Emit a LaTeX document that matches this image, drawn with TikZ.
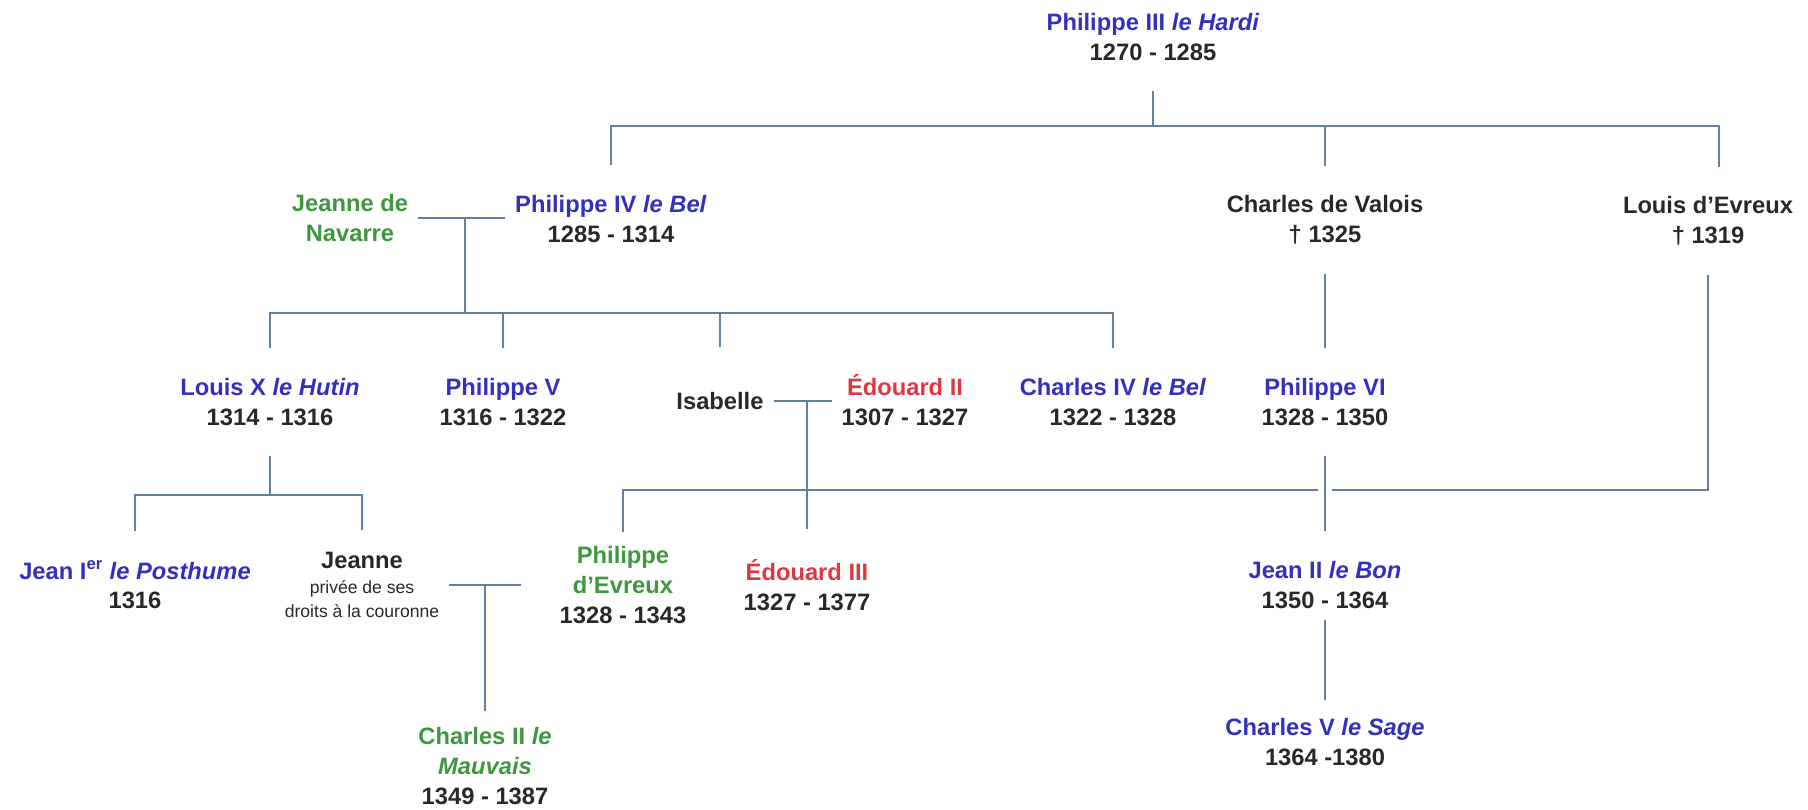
\documentclass[tikz,border=0pt]{standalone}
\usepackage{fontspec}
\setmainfont{Liberation Sans}
\definecolor{kingblue}{RGB}{52,48,190}
\definecolor{navgreen}{RGB}{62,150,62}
\definecolor{engred}{RGB}{222,55,65}
\definecolor{linegray}{RGB}{100,128,160}
\definecolor{datedark}{RGB}{40,40,40}
\newcommand{\franc}[1]{\textcolor{kingblue}{#1}}
\newcommand{\navar}[1]{\textcolor{navgreen}{#1}}
\newcommand{\angl}[1]{\textcolor{engred}{#1}}
\newcommand{\petit}[1]{{\fontsize{10}{12}\selectfont\mdseries #1}}
\begin{document}
\begin{tikzpicture}[x=0.02cm,y=-0.02cm,
	person/.style={align=center,font=\fontsize{13.5}{17}\selectfont\bfseries,text=datedark,
		inner sep=0pt,outer xsep=0.2cm,outer ysep=0.6cm},
	link/.style={draw=linegray,line width=1.6pt},
	hop/.style={preaction={draw=white,line width=8pt}}]
	\useasboundingbox (0,0) rectangle (1808,809);
	% first and second generation
	\node[person] (hardi) at (1153,37) {\franc{Philippe III \textit{le Hardi}}\\1270 - 1285};
	\node[person,text=navgreen] (navarre) at (350,218) {Jeanne de\\Navarre};
	\node[person] (bel4) at (611,219) {\franc{Philippe IV \textit{le Bel}}\\1285 - 1314};
	\node[person] (valois) at (1325,220) {Charles de Valois\\† 1325};
	\node[person] (evreuxL) at (1708,221) {Louis d'Evreux\\† 1319};
	% third generation
	\node[person] (hutin) at (270,402) {\franc{Louis X \textit{le Hutin}}\\1314 - 1316};
	\node[person] (phil5) at (503,402) {\franc{Philippe V}\\1316 - 1322};
	\node[person,outer ysep=0.9cm] (isabelle) at (720,401) {Isabelle};
	\node[person] (edouard2) at (905,400) {\angl{Édouard II}\\1307 - 1327};
	\node[person] (charles4) at (1113,402) {\franc{Charles IV \textit{le Bel}}\\1322 - 1328};
	\node[person] (phil6) at (1325,402) {\franc{Philippe VI}\\1328 - 1350};
	% fourth generation
	\node[person] (posthume) at (135,585) {\franc{Jean I\textsuperscript{er} \textit{le Posthume}}\\1316};
	\node[person,font=\fontsize{13.5}{14}\selectfont\bfseries,outer ysep=0.45cm] (jeanne) at (362,585)
		{Jeanne\\\petit{privée de ses}\\\petit{droits à la couronne}};
	\node[person,outer ysep=0.28cm] (evreuxP) at (623,585) {\navar{Philippe}\\\navar{d'Evreux}\\1328 - 1343};
	\node[person] (edouard3) at (807,585) {\angl{Édouard III}\\1327 - 1377};
	\node[person] (jean2) at (1325,585) {\franc{Jean II \textit{le Bon}}\\1350 - 1364};
	% fifth generation
	\node[person,outer ysep=0.32cm] (mauvais) at (485,766) {\navar{Charles II \textit{le}}\\\navar{\textit{Mauvais}}\\1349 - 1387};
	\node[person] (sage) at (1325,742) {\franc{Charles V \textit{le Sage}}\\1364 -1380};
	% junctions
	\coordinate (bar1) at (1153,126);
	\coordinate (wed1) at (465,218);
	\coordinate (kids1) at (465,313);
	\coordinate (wed2) at (807,401);
	\coordinate (bar3) at (1325,490);
	\coordinate (kids2) at (270,495);
	\coordinate (wed3) at (485,585);
	% lines
	\draw[link] (hardi.south) -- (hardi.south |- bar1);
	\draw[link] (bel4.north) |- (bar1) -| ([xshift=0.22cm]evreuxL.north);
	\draw[link] (valois.north) -- (valois.north |- bar1);
	\draw[link] (navarre.east) -- (navarre.east -| bel4.west);
	\draw[link] (wed1) -- (kids1);
	\draw[link] (hutin.north) |- (kids1) -| (charles4.north);
	\draw[link] (phil5.north) -- (phil5.north |- kids1);
	\draw[link] (isabelle.north) -- (isabelle.north |- kids1);
	\draw[link] (isabelle.east) -- (isabelle.east -| edouard2.west);
	\draw[link] (wed2) -- (edouard3.north);
	\draw[link] (valois.south) -- (phil6.north);
	\draw[link] (evreuxL.south) |- (evreuxP.north |- bar3) -- (evreuxP.north);
	\draw[link,hop] (phil6.south) -- (jean2.north);
	\draw[link] (hutin.south) -- (kids2);
	\draw[link] (posthume.north) |- (kids2) -| (jeanne.north);
	\draw[link] (jeanne.east) -- ([xshift=-0.58cm]evreuxP.west);
	\draw[link] (wed3) -- (mauvais.north);
	\draw[link] ([yshift=0.38cm]jean2.south) -- ([yshift=-0.24cm]sage.north);
\end{tikzpicture}
\end{document}
